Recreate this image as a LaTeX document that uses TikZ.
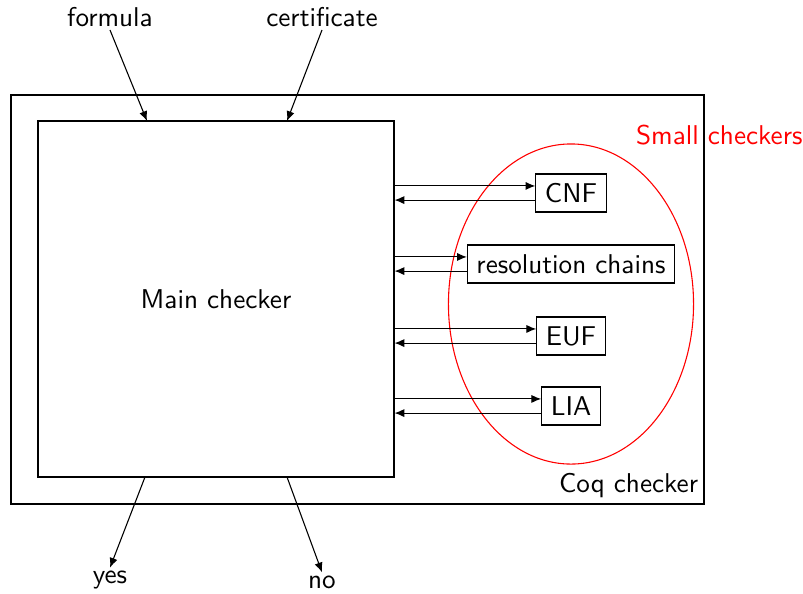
\documentclass[tikz,border=0pt]{standalone}
\usetikzlibrary{arrows.meta}

\begin{document}
\begin{tikzpicture}[x=0.368pt,y=-0.368pt,font=\sffamily,
  arr/.style={-{Latex[length=3.6pt,width=3pt]}},
  io/.style={inner sep=1pt},
  checker/.style={draw,minimum height=14pt}]
\useasboundingbox (0,0) rectangle (803,593);

% The Coq checker and the main checker inside it.
\draw (11,95) rectangle (704,504);
\coordinate (coqSE) at (704,504);
\node[anchor=south east,inner sep=2pt] (coq) at (coqSE) {Coq checker};
\node[draw,minimum width=131pt,minimum height=131pt] (main) at (216,299) {Main checker};

% Inputs and outputs.
\node[io] (formula) at (110,17) {formula};
\node[io] (cert) at (322,17) {certificate};
\node[io] (yes) at (110,580) {yes};
\node[io] (no) at (322,582) {no};
\coordinate (mainTL) at (147,121);
\coordinate (mainTR) at (287,121);
\coordinate (mainBL) at (145,477);
\coordinate (mainBR) at (287,477);
\draw[arr] (formula.south) -- (mainTL);
\draw[arr] (cert.south) -- (mainTR);
\draw[arr] (mainBL) -- (yes.north);
\draw[arr] (mainBR) -- (no.north);

% The small checkers.
\draw[red] (571,304) ellipse [x radius=45.1pt,y radius=58.9pt];
\node[red,anchor=east,inner sep=0pt] (small) at (803,135) {Small checkers};
\node[checker] (cnf) at (571,193) {CNF};
\node[checker] (res) at (571,264) {resolution chains};
\node[checker] (euf) at (571,336) {EUF};
\node[checker] (lia) at (571,406) {LIA};

% Calls to and answers from each small checker.
\foreach \c in {cnf,res,euf,lia}{
  \draw[arr] ([yshift=2.6pt]main.east |- \c.west) -- ([yshift=2.6pt]\c.west);
  \draw[arr] ([yshift=-2.6pt]\c.west) -- ([yshift=-2.6pt]main.east |- \c.west);
}
\end{tikzpicture}
\end{document}
